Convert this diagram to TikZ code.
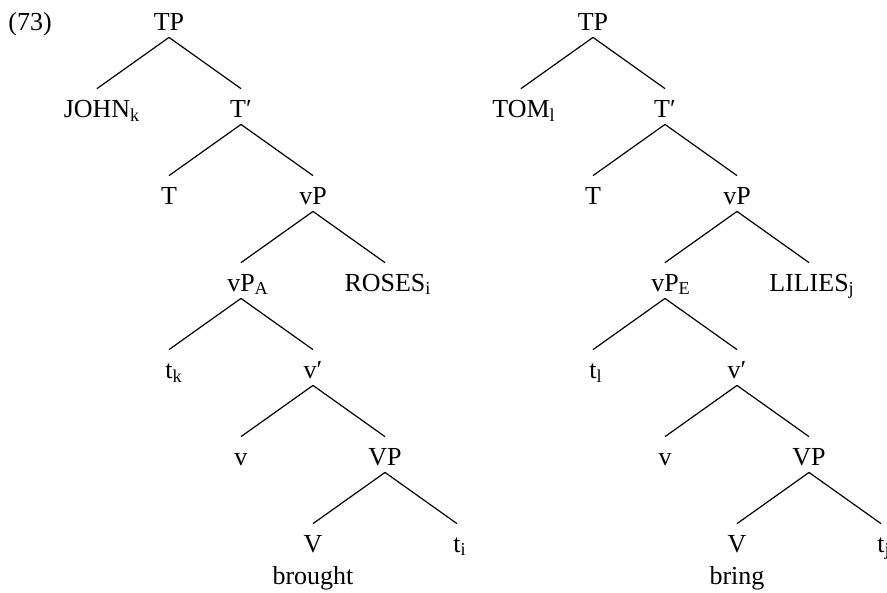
\documentclass[tikz,border=0pt]{standalone}
\usepackage{fontspec}
\setmainfont{Liberation Serif}
\usepackage{tikz}
\usetikzlibrary{positioning}
\newcommand{\sbs}[1]{\rlap{\textsubscript{#1}}}
\tikzset{
    cat/.style={anchor=base,inner xsep=0pt,inner ysep=0pt,text height=14pt,text depth=3.5pt,font=\fontsize{13}{15}\selectfont},
    branch/.style={line width=0.6pt}
}

\begin{document}
\begin{tikzpicture}[x=36pt,y=-43.5pt]
    \useasboundingbox (-1.347,-0.345) rectangle (10.972,6.460);
    \node[cat] (ex) at (-0.93,0) {(73)};

    % Tree with vP_A
    \node[cat] (tp) at (1,0) {TP};
    \node[cat] (john) at (0,1) {JOHN\sbs{k}};
    \node[cat] (tbar) at (2,1) {T′};
    \node[cat] (t) at (1,2) {T};
    \node[cat] (vp) at (3,2) {vP};
    \node[cat] (vpa) at (2,3) {vP\sbs{A}};
    \node[cat] (roses) at (4,3) {ROSES\sbs{i}};
    \node[cat] (tk) at (1,4) {t\sbs{k}};
    \node[cat] (vbar) at (3,4) {v′};
    \node[cat] (v) at (2,5) {v};
    \node[cat] (bigvp) at (4,5) {VP};
    \node[cat] (bigv) at (3,6) {V};
    \node[cat] (ti) at (5,6) {t\sbs{i}};
    \node[cat] (brought) at (3,6.37) {brought};
    \foreach \p/\c in {tp/john,tp/tbar,tbar/t,tbar/vp,vp/vpa,vp/roses,vpa/tk,vpa/vbar,vbar/v,vbar/bigvp,bigvp/bigv,bigvp/ti}
        \draw[branch] (\p.south) -- (\c.north);

    % Tree with vP_E
    \begin{scope}[xshift=212pt]
        \node[cat] (tpb) at (1,0) {TP};
        \node[cat] (tom) at (0,1) {TOM\sbs{l}};
        \node[cat] (tbarb) at (2,1) {T′};
        \node[cat] (tb) at (1,2) {T};
        \node[cat] (vpb) at (3,2) {vP};
        \node[cat] (vpe) at (2,3) {vP\sbs{E}};
        \node[cat] (lilies) at (4,3) {LILIES\sbs{j}};
        \node[cat] (tl) at (1,4) {t\sbs{l}};
        \node[cat] (vbarb) at (3,4) {v′};
        \node[cat] (vb) at (2,5) {v};
        \node[cat] (bigvpb) at (4,5) {VP};
        \node[cat] (bigvb) at (3,6) {V};
        \node[cat] (tj) at (5,6) {t\sbs{j}};
        \node[cat] (bring) at (3,6.37) {bring};
        \foreach \p/\c in {tpb/tom,tpb/tbarb,tbarb/tb,tbarb/vpb,vpb/vpe,vpb/lilies,vpe/tl,vpe/vbarb,vbarb/vb,vbarb/bigvpb,bigvpb/bigvb,bigvpb/tj}
            \draw[branch] (\p.south) -- (\c.north);
    \end{scope}
\end{tikzpicture}
\end{document}
